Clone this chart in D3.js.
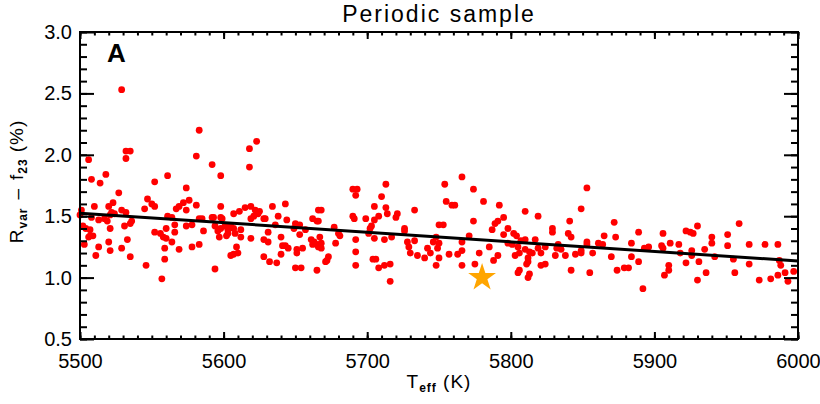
<!DOCTYPE html>
<html>
<head>
<meta charset="utf-8">
<script src="https://cdn.jsdelivr.net/npm/d3@7"></script>
<style>
body { margin: 0; background: #fff; }
text { font-family: "Liberation Sans", Arial, sans-serif; fill: #000; }
</style>
</head>
<body>
<svg id="chart"></svg>
<script>
// Periodic sample: [Teff (K), Rvar - f23 (%)]
const periodicStars = [
  [5529,2.53],[5583,2.20],[5532,2.03],[5535,2.03],[5532,1.97],[5506,1.96],[5581,1.99],[5508,1.80],
  [5514,1.77],[5518,1.84],[5552,1.78],[5561,1.83],[5574,1.73],[5527,1.69],[5547,1.64],[5576,1.63],
  [5501,1.55],[5510,1.58],[5520,1.58],[5523,1.61],[5529,1.55],[5532,1.53],[5545,1.56],[5550,1.60],
  [5552,1.58],[5567,1.56],[5569,1.58],[5572,1.61],[5574,1.55],[5581,1.59],[5500,1.51],[5508,1.49],
  [5513,1.47],[5517,1.48],[5521,1.51],[5522,1.53],[5524,1.52],[5519,1.46],[5536,1.46],[5535,1.44],
  [5561,1.50],[5564,1.49],[5583,1.48],[5502,1.42],[5504,1.40],[5507,1.39],[5507,1.34],[5506,1.33],
  [5509,1.34],[5521,1.40],[5531,1.42],[5503,1.27],[5513,1.25],[5520,1.29],[5521,1.22],[5511,1.18],
  [5529,1.24],[5533,1.31],[5535,1.17],[5546,1.10],[5552,1.37],[5556,1.36],[5558,1.33],[5560,1.32],
  [5560,1.40],[5566,1.43],[5566,1.37],[5564,1.29],[5559,1.24],[5559,1.15],[5569,1.23],[5557,0.99],
  [5574,1.42],[5578,1.43],[5578,1.25],[5583,1.27],
  [5592,1.92],[5598,1.83],[5618,2.05],[5623,2.11],[5618,1.90],[5598,1.58],[5585,1.48],[5592,1.49],
  [5593,1.49],[5598,1.49],[5599,1.48],[5586,1.38],[5594,1.42],[5596,1.38],[5597,1.33],[5598,1.40],
  [5601,1.42],[5603,1.39],[5603,1.36],[5602,1.34],[5605,1.42],[5607,1.40],[5608,1.36],[5607,1.52],
  [5611,1.54],[5615,1.57],[5619,1.58],[5622,1.55],[5625,1.54],[5624,1.52],[5612,1.39],[5612,1.33],
  [5619,1.48],[5621,1.50],[5628,1.48],[5629,1.48],[5634,1.58],[5638,1.50],[5643,1.60],[5644,1.47],
  [5636,1.43],[5631,1.37],[5619,1.32],[5609,1.25],[5610,1.20],[5605,1.18],[5607,1.19],[5628,1.31],
  [5631,1.29],[5628,1.17],[5632,1.13],[5637,1.12],[5640,1.33],[5641,1.26],[5643,1.26],[5640,1.19],
  [5650,1.44],[5653,1.43],[5657,1.39],[5649,1.40],[5645,1.24],[5651,1.23],[5651,1.20],[5655,1.24],
  [5653,1.35],[5650,1.08],[5654,1.08],[5594,1.07],[5662,1.48],[5665,1.46],[5666,1.55],[5661,1.31],
  [5663,1.29],[5665,1.27],[5662,1.27],[5665,1.06],
  [5668,1.55],[5666,1.46],[5667,1.33],[5668,1.28],[5668,1.24],[5666,1.25],[5673,1.17],[5672,1.14],
  [5671,1.13],[5677,1.41],[5678,1.28],[5680,1.36],[5681,1.34],[5690,1.72],[5693,1.72],[5692,1.67],
  [5690,1.50],[5691,1.48],[5692,1.31],[5692,1.21],[5692,1.10],[5699,1.48],[5702,1.40],[5703,1.42],
  [5705,1.47],[5708,1.50],[5701,1.36],[5705,1.58],[5710,1.66],[5713,1.76],[5713,1.57],[5714,1.52],
  [5705,1.32],[5712,1.31],[5717,1.33],[5704,1.15],[5706,1.15],[5708,1.08],[5712,1.10],[5716,1.11],
  [5716,0.97],[5720,1.49],[5721,1.52],[5726,1.40],[5726,1.38],[5733,1.55],[5728,1.29],[5729,1.25],
  [5730,1.20],[5733,1.30],[5735,1.18],[5740,1.16],[5742,1.24],[5744,1.20],[5746,1.29],[5748,1.33],
  [5749,1.24],[5750,1.28],[5748,1.10],[5750,1.16],[5750,1.43],
  [5766,1.82],[5754,1.76],[5774,1.72],[5755,1.62],[5759,1.59],[5761,1.59],[5781,1.62],[5792,1.59],
  [5810,1.54],[5819,1.50],[5753,1.43],[5774,1.46],[5795,1.49],[5791,1.46],[5789,1.44],[5787,1.39],
  [5798,1.40],[5795,1.35],[5802,1.36],[5804,1.34],[5829,1.40],[5829,1.37],[5771,1.34],[5766,1.29],
  [5757,1.19],[5763,1.19],[5766,1.22],[5778,1.20],[5785,1.25],[5766,1.10],[5775,1.11],[5788,1.14],
  [5791,1.18],[5798,1.28],[5801,1.27],[5805,1.25],[5807,1.30],[5810,1.31],[5817,1.31],[5803,1.18],
  [5806,1.20],[5810,1.23],[5813,1.21],[5815,1.20],[5812,1.16],[5812,1.13],[5811,1.11],[5819,1.24],
  [5821,1.20],[5824,1.25],[5831,1.18],[5832,1.24],[5821,1.10],[5824,1.11],[5806,1.06],[5805,1.04],
  [5813,1.03],[5812,1.00],
  [5853,1.73],[5849,1.56],[5841,1.46],[5840,1.36],[5842,1.33],[5833,1.27],[5835,1.23],[5838,1.18],
  [5845,1.19],[5849,1.22],[5849,1.20],[5853,1.29],[5853,1.27],[5857,1.20],[5842,1.06],[5855,1.04],
  [5861,1.28],[5864,1.27],[5865,1.34],[5872,1.45],[5873,1.33],[5870,1.17],[5874,1.06],[5879,1.08],
  [5882,1.08],[5884,1.28],[5884,1.17],[5889,1.37],[5889,1.13],[5892,0.91],[5893,1.24],[5896,1.25],
  [5905,1.26],[5906,1.24],[5906,1.36],[5911,1.28],[5910,1.10],[5910,1.06],[5907,1.02],[5917,1.27],
  [5922,1.38],[5925,1.37],[5927,1.36],[5930,1.42],[5918,1.20],[5922,1.12],[5926,1.22],[5926,1.18],
  [5931,1.13],[5930,0.98],[5935,1.23],[5936,1.04],[5940,1.33],[5940,1.28],[5942,1.17],[5951,1.35],
  [5951,1.26],[5955,1.15],[5956,1.04],[5959,1.44],[5966,1.27],[5966,1.11],[5973,0.98],[5977,1.27],
  [5981,0.99],[5986,1.27],[5986,1.02],[5987,1.14],[5988,1.10],[5991,1.04],[5993,0.97],[5997,1.05]
];

// Linear trend, end points
const trendTeff = [5500, 6000];
const trendR = [1.525, 1.135];

// The Sun
const sunTeff = 5780;
const sunR = 1.0;

const xTicks = [5500, 5600, 5700, 5800, 5900, 6000];
const yTicks = [0.5, 1.0, 1.5, 2.0, 2.5, 3.0];

(function () {

const margin = {top: 32, right: 22, bottom: 65, left: 80},
    width = 820 - margin.left - margin.right,
    height = 404 - margin.top - margin.bottom;

const svg = d3.select("#chart")
    .attr("width", width + margin.left + margin.right)
    .attr("height", height + margin.top + margin.bottom)
    .append("g")
    .attr("transform", `translate(${margin.left},${margin.top})`);

const x = d3.scaleLinear().domain([5500, 6000]).range([0, width]);
const y = d3.scaleLinear().domain([0.5, 3.0]).range([height, 0]);

// dots
svg.append("g")
    .selectAll("circle")
    .data(periodicStars)
    .enter().append("circle")
        .attr("cx", d => x(d[0]))
        .attr("cy", d => y(d[1]))
        .attr("r", 3.4)
        .attr("fill", "#ff0000");

// trend line
svg.append("path")
    .datum(trendTeff.map((t, i) => [t, trendR[i]]))
    .attr("fill", "none")
    .attr("stroke", "#000")
    .attr("stroke-width", 3)
    .attr("d", d3.line().x(d => x(d[0])).y(d => y(d[1])));

// sun star
svg.append("path")
    .attr("d", d3.symbol(d3.symbolStar, 240)())
    .attr("transform", `translate(${x(sunTeff)},${y(sunR)})`)
    .attr("fill", "#ffa500");

// axes: ticks point inward, minor ticks every 10 K / 0.1
const xMinor = x.ticks(50), yMinor = y.ticks(25);

function styleAxis(g) {
    g.select(".domain").remove();
    g.selectAll("line").attr("stroke", "#000").attr("stroke-width", 2);
    g.selectAll("text").style("font-size", "20px").attr("fill", "#000");
}

svg.append("g").attr("transform", `translate(0,${height})`)
    .call(d3.axisBottom(x).tickValues(xMinor).tickSizeInner(-3.5).tickSizeOuter(0).tickFormat(""))
    .call(styleAxis);
svg.append("g").attr("transform", `translate(0,${height})`)
    .call(d3.axisBottom(x).tickValues(xTicks).tickSizeInner(-7).tickSizeOuter(0).tickPadding(15).tickFormat(d3.format("d")))
    .call(styleAxis);
svg.append("g")
    .call(d3.axisTop(x).tickValues(xMinor).tickSizeInner(-3.5).tickSizeOuter(0).tickFormat(""))
    .call(styleAxis);
svg.append("g")
    .call(d3.axisTop(x).tickValues(xTicks).tickSizeInner(-7).tickSizeOuter(0).tickFormat(""))
    .call(styleAxis);

svg.append("g")
    .call(d3.axisLeft(y).tickValues(yMinor).tickSizeInner(-7).tickSizeOuter(0).tickFormat(""))
    .call(styleAxis);
svg.append("g")
    .call(d3.axisLeft(y).tickValues(yTicks).tickSizeInner(-14).tickSizeOuter(0).tickPadding(8).tickFormat(d3.format(".1f")))
    .call(styleAxis);
svg.append("g").attr("transform", `translate(${width},0)`)
    .call(d3.axisRight(y).tickValues(yMinor).tickSizeInner(-7).tickSizeOuter(0).tickFormat(""))
    .call(styleAxis);
svg.append("g").attr("transform", `translate(${width},0)`)
    .call(d3.axisRight(y).tickValues(yTicks).tickSizeInner(-14).tickSizeOuter(0).tickFormat(""))
    .call(styleAxis);

// frame
svg.append("rect")
    .attr("width", width)
    .attr("height", height)
    .attr("fill", "none")
    .attr("stroke", "#000")
    .attr("stroke-width", 2);

// title
svg.append("text")
    .attr("x", width / 2)
    .attr("y", -10)
    .attr("text-anchor", "middle")
    .style("font-size", "23px")
    .style("letter-spacing", "2px")
    .text("Periodic sample");

// panel letter
svg.append("text")
    .attr("x", 27)
    .attr("y", 30)
    .style("font-size", "26px")
    .style("font-weight", "bold")
    .text("A");

// x label
const xl = svg.append("text")
    .attr("x", width / 2)
    .attr("y", height + 49)
    .attr("text-anchor", "middle")
    .style("font-size", "19px")
    .style("letter-spacing", "1px");
xl.append("tspan").text("T");
xl.append("tspan").attr("dy", 4).style("font-size", "12px").style("font-weight", "bold").text("eff");
xl.append("tspan").attr("dy", -4).text(" (K)");

// y label
const yl = svg.append("text")
    .attr("transform", `translate(${-57},${height / 2 - 4}) rotate(-90)`)
    .attr("text-anchor", "middle")
    .style("font-size", "19px")
    .style("letter-spacing", "1px");
yl.append("tspan").text("R");
yl.append("tspan").attr("dy", 4).style("font-size", "12px").style("font-weight", "bold").text("var");
yl.append("tspan").attr("dy", -4).attr("dx", 8).text("\u2013");
yl.append("tspan").attr("dx", 8).text("f");
yl.append("tspan").attr("dy", 4).style("font-size", "12px").style("font-weight", "bold").text("23");
yl.append("tspan").attr("dy", -4).attr("dx", 6).text("(%)");

})();
</script>
</body>
</html>
